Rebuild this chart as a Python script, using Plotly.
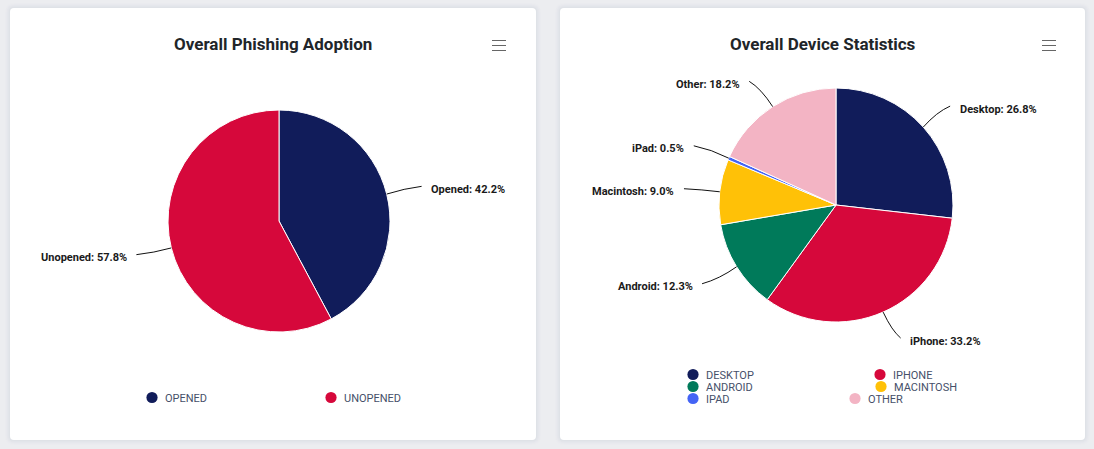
import math
import plotly.graph_objects as go

W, H = 1094, 449

# ---- data ----
left_title = "Overall Phishing Adoption"
left_labels = ["Opened", "Unopened"]
left_values = [42.2, 57.8]
left_colors = ["#111C5A", "#D6083B"]

right_title = "Overall Device Statistics"
right_labels = ["Desktop", "iPhone", "Android", "Macintosh", "iPad", "Other"]
right_values = [26.8, 33.2, 12.3, 9.0, 0.5, 18.2]
right_colors = ["#111C5A", "#D6083B", "#007A5A", "#FFC107", "#4464F5", "#F3B4C4"]

# ---- layout helpers ----
def fx(x): return x / W
def fy(y): return 1 - y / H

PAGE = "#ECEDF0"
shapes, annotations = [], []

def rrect(x0, y0, x1, y1, r):
    return (f"M {fx(x0+r)} {fy(y0)} L {fx(x1-r)} {fy(y0)} Q {fx(x1)} {fy(y0)} {fx(x1)} {fy(y0+r)} "
            f"L {fx(x1)} {fy(y1-r)} Q {fx(x1)} {fy(y1)} {fx(x1-r)} {fy(y1)} "
            f"L {fx(x0+r)} {fy(y1)} Q {fx(x0)} {fy(y1)} {fx(x0)} {fy(y1-r)} "
            f"L {fx(x0)} {fy(y0+r)} Q {fx(x0)} {fy(y0)} {fx(x0+r)} {fy(y0)} Z")

def card(x0, y0, x1, y1):
    for s, a in ((5, 0.006), (4, 0.008), (3, 0.010), (2, 0.012), (1, 0.014)):
        shapes.append(dict(type="path", xref="paper", yref="paper", layer="below",
                           path=rrect(x0-s, y0-s, x1+s, y1+s, 4+s),
                           fillcolor=f"rgba(40,45,70,{a})", line=dict(width=0)))
    shapes.append(dict(type="path", xref="paper", yref="paper", layer="below",
                       path=rrect(x0, y0, x1, y1, 4), fillcolor="#FFFFFF", line=dict(width=0)))

def text(x, y, s, size, color, anchor="left", weight=400):
    annotations.append(dict(x=fx(x), y=fy(y), xref="paper", yref="paper", text=s, showarrow=False,
                            xanchor=anchor, yanchor="middle", align=anchor, borderpad=0, borderwidth=0,
                            xshift=0, font=dict(family="Roboto", size=size, color=color, weight=weight)))

def burger(x0, x1, y):
    for d in (0, 5, 10):
        shapes.append(dict(type="line", xref="paper", yref="paper", x0=fx(x0), x1=fx(x1),
                           y0=fy(y+d), y1=fy(y+d), line=dict(color="#666666", width=1)))

def dot(x, y, color):
    r = 5.6
    shapes.append(dict(type="circle", xref="paper", yref="paper", x0=fx(x-r), x1=fx(x+r),
                       y0=fy(y-r), y1=fy(y+r), fillcolor=color, line=dict(width=0)))

def leaders(labels, values, cx, cy, r, shift):
    total = sum(values)
    acc = 0
    for lab, v, (dx, dy) in zip(labels, values, shift):
        mid = (acc + v / 2) / total * 2 * math.pi
        acc += v
        sn, cs = math.sin(mid), math.cos(mid)
        sx, sy = cx + r * sn, cy - r * cs
        ex, ey = cx + (r + 36) * sn + dx, cy - (r + 36) * cs + dy
        qx, qy = (sx + ex) / 2, 0.72 * ey + 0.28 * sy
        shapes.append(dict(type="path", xref="paper", yref="paper",
                           path=f"M {fx(ex)} {fy(ey)} Q {fx(qx)} {fy(qy)} {fx(sx)} {fy(sy)}",
                           line=dict(color="#111111", width=1)))
        side = 1 if sn >= 0 else -1
        text(ex + side * 9.5, ey + 3, f"{lab}: {v:.1f}%", 11, "#1A1A1A",
             "left" if side > 0 else "right", 700)

# ---- cards, titles, menus ----
card(10, 8, 536, 440)
card(560, 8, 1085, 440)
text(273, 44, left_title, 17, "#212529", "center", 700)
text(823, 44, right_title, 17, "#212529", "center", 700)
burger(492, 506, 40.5)
burger(1042, 1056, 40.5)

# ---- pies ----
L_CX, L_CY, L_R = 279, 221, 111
R_CX, R_CY, R_R = 836, 205, 117

def pie(labels, values, colors, cx, cy, r):
    return go.Pie(labels=labels, values=values, sort=False, direction="clockwise", rotation=0,
                  marker=dict(colors=colors, line=dict(color="#FFFFFF", width=1)),
                  textinfo="none", showlegend=False, hoverinfo="label+percent",
                  domain=dict(x=[fx(cx-r), fx(cx+r)], y=[fy(cy+r), fy(cy-r)]))

leaders(left_labels, left_values, L_CX, L_CY, L_R, [(0, 1), (0, -2)])
leaders(right_labels, right_values, R_CX, R_CY, R_R,
        [(0, 3), (3, -7), (-4, -2), (0, 1), (-2, 2), (-4, 5)])

# ---- legends ----
LEG = "#465069"
for name, c, x in zip(left_labels, left_colors, (152, 331)):
    dot(x, 397.5, c)
    text(x + 13, 398, name.upper(), 11, LEG)

right_pos = [(693, 375), (880, 375), (693, 387), (881, 387), (693, 399), (855, 399)]
for name, c, (x, y) in zip(right_labels, right_colors, right_pos):
    dot(x, y - 0.5, c)
    text(x + 13, y, name.upper(), 11, LEG)

fig = go.Figure([pie(left_labels, left_values, left_colors, L_CX, L_CY, L_R),
                 pie(right_labels, right_values, right_colors, R_CX, R_CY, R_R)])
fig.update_layout(width=W, height=H, autosize=False, margin=dict(l=0, r=0, t=0, b=0, pad=0),
                  paper_bgcolor=PAGE, plot_bgcolor=PAGE, shapes=shapes, annotations=annotations,
                  font=dict(family="Roboto"))
fig.write_html("out.html", config=dict(displayModeBar=False),
               post_script="document.body.style.margin='0';document.documentElement.style.background='#ECEDF0';document.body.style.overflow='hidden';")
